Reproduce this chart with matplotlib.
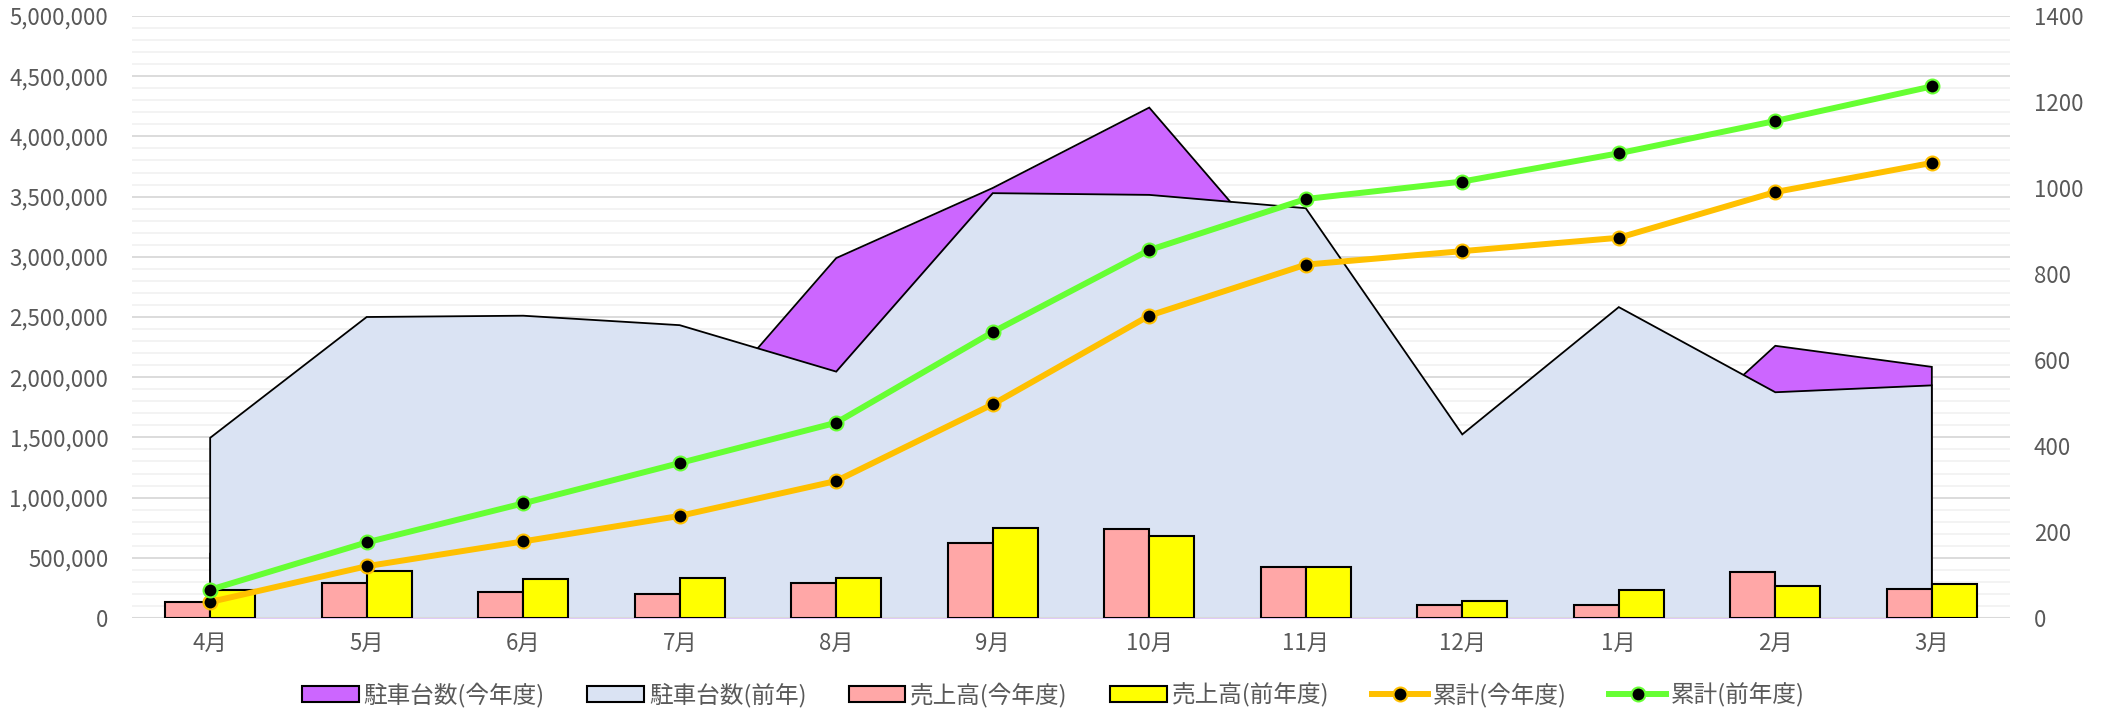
import matplotlib
matplotlib.use("Agg")
import matplotlib.pyplot as plt
import numpy as np
from matplotlib.patches import Patch
from matplotlib.lines import Line2D
from matplotlib.ticker import FuncFormatter, MultipleLocator

plt.rcParams['font.family'] = ['Noto Sans CJK JP', 'DejaVu Sans']

months = ["4月", "5月", "6月", "7月", "8月", "9月", "10月", "11月", "12月", "1月", "2月", "3月"]

# 駐車台数 (right axis)
parking_this = [150, 350, 400, 419, 837, 1000, 1187, 764, 200, 300, 633, 584]
parking_prev = [419, 700, 703, 681, 573, 988, 984, 953, 427, 723, 525, 541]

# 売上高 (left axis)
sales_this = [133000, 287000, 212000, 200000, 290000, 625000, 737000, 424000, 112000, 112000, 379000, 241000]
sales_prev = [235000, 393000, 324000, 335000, 335000, 748000, 681000, 424000, 145000, 234000, 268000, 282000]

# 累計 (left axis)
cum_this = [133000, 430000, 636000, 848000, 1138000, 1775000, 2511000, 2935000, 3047000, 3158000, 3538000, 3780000]
cum_prev = [235000, 628000, 952000, 1287000, 1622000, 2375000, 3056000, 3480000, 3625000, 3860000, 4128000, 4415000]

legend_labels = ["駐車台数(今年度)", "駐車台数(前年)", "売上高(今年度)", "売上高(前年度)", "累計(今年度)", "累計(前年度)"]

c_purple = "#CC66FF"
c_blue = "#DAE3F3"
c_pink = "#FFA7A7"
c_yellow = "#FFFF00"
c_orange = "#FFC000"
c_green = "#66FF33"
tick_color = "#595959"
FS = 16
LFS = 17

fig = plt.figure(figsize=(21.07, 7.11), dpi=100)
ax = fig.add_axes([0.0626, 0.1308, 0.954 - 0.0626, 0.9775 - 0.1308])
ax2 = ax.twinx()
ax3 = ax.twinx()

x = np.arange(len(months))

# grid axes (left scale)
ax.set_xlim(-0.5, len(months) - 0.5)
ax.set_ylim(0, 5000000)
ax.yaxis.set_major_locator(MultipleLocator(500000))
ax.yaxis.set_minor_locator(MultipleLocator(100000))
ax.yaxis.set_major_formatter(FuncFormatter(lambda v, p: f"{int(v):,}"))
ax.grid(axis='y', which='minor', color='#F2F2F2', linewidth=1.3)
ax.grid(axis='y', which='major', color='#D9D9D9', linewidth=1.3)
ax.set_axisbelow(True)
ax.set_xticks(x)
ax.set_xticklabels(months)
ax.tick_params(axis='both', which='both', length=0, labelsize=FS, colors=tick_color)
ax.tick_params(axis='x', pad=10)
ax.tick_params(axis='y', pad=17)
for s in ax.spines.values():
    s.set_visible(False)

# area axes (right scale)
ax2.set_ylim(0, 1400)
ax2.yaxis.set_major_locator(MultipleLocator(200))
ax2.tick_params(axis='y', length=0, labelsize=FS, colors=tick_color, pad=17)
for s in ax2.spines.values():
    s.set_visible(False)

def area(axis, vals, color, z):
    axis.fill_between(x, 0, vals, color=color, linewidth=0, zorder=z)
    xs = np.concatenate([[x[0]], x, [x[-1]]])
    ys = np.concatenate([[0], vals, [0]])
    axis.plot(xs, ys, color='black', linewidth=1.3, solid_joinstyle='miter', zorder=z + 0.1)

area(ax2, parking_this, c_purple, 1.0)
area(ax2, parking_prev, c_blue, 1.2)

# bars and lines axes (left scale)
ax3.set_ylim(0, 5000000)
ax3.set_yticks([])
for s in ax3.spines.values():
    s.set_visible(False)
ax3.axhline(0, color='#D9D9D9', linewidth=1.5, zorder=1)

bw = 0.2875
ax3.bar(x - bw / 2, sales_this, width=bw, color=c_pink, edgecolor='black', linewidth=1.5, zorder=2)
ax3.bar(x + bw / 2, sales_prev, width=bw, color=c_yellow, edgecolor='black', linewidth=1.5, zorder=2)

ax3.plot(x, cum_this, color=c_orange, linewidth=4.3, marker='o', markersize=10,
         markerfacecolor='black', markeredgecolor=c_orange, markeredgewidth=1.5, zorder=3)
ax3.plot(x, cum_prev, color=c_green, linewidth=4.3, marker='o', markersize=10,
         markerfacecolor='black', markeredgecolor=c_green, markeredgewidth=1.5, zorder=3)

handles = [
    Patch(facecolor=c_purple, edgecolor='black', linewidth=1.5),
    Patch(facecolor=c_blue, edgecolor='black', linewidth=1.5),
    Patch(facecolor=c_pink, edgecolor='black', linewidth=1.5),
    Patch(facecolor=c_yellow, edgecolor='black', linewidth=1.5),
    Line2D([], [], color=c_orange, linewidth=4.3, marker='o', markersize=10,
           markerfacecolor='black', markeredgecolor=c_orange, markeredgewidth=1.5),
    Line2D([], [], color=c_green, linewidth=4.3, marker='o', markersize=10,
           markerfacecolor='black', markeredgecolor=c_green, markeredgewidth=1.5),
]
leg = fig.legend(handles, legend_labels, loc='center', bbox_to_anchor=(0.5, 1 - 695 / 711),
                 ncol=6, frameon=False, fontsize=LFS, handlelength=2.4, handleheight=0.7,
                 handletextpad=0.2, columnspacing=1.8)
for t in leg.get_texts():
    t.set_color(tick_color)

fig.savefig("out.png", dpi=100)
